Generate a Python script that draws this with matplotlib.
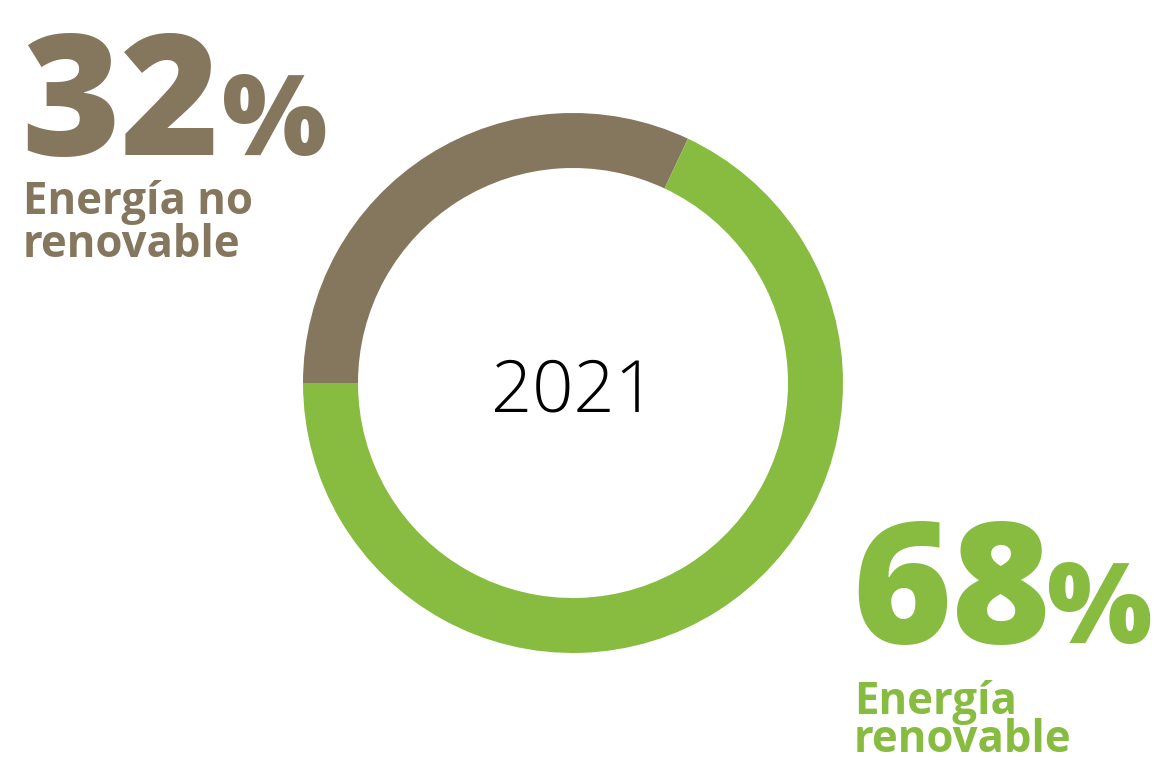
import matplotlib
matplotlib.use("Agg")
import matplotlib.pyplot as plt
from matplotlib.font_manager import FontProperties

labels = ["Energía no\nrenovable", "Energía\nrenovable"]
values = [32, 68]
colors = ["#85775D", "#88BC40"]
year = "2021"

W, H = 1158, 761
fig = plt.figure(figsize=(W / 100, H / 100), dpi=100)

cx, cy, R = 573, 383, 270
ax = fig.add_axes([(cx - R) / W, (H - cy - R) / H, 2 * R / W, 2 * R / H])
ax.pie(values, colors=colors, startangle=180, counterclock=False,
       radius=1.0, wedgeprops=dict(width=55 / 270, linewidth=0))
ax.set_xlim(-1, 1)
ax.set_ylim(-1, 1)
ax.set_aspect("equal")
ax.axis("off")

renderer = fig.canvas.get_renderer()

def ftext(x, y, s, **kw):
    return fig.text(x / W, 1 - y / H, s, **kw)

ftext(cx, 412, year, ha="center", va="baseline", fontsize=52,
      family="Open Sans", fontweight="light", color="black")

fam = "Open Sans"
lab_size = 31.5
fp = FontProperties(family=fam, weight="bold", size=lab_size)
_, lh, ld = renderer.get_text_width_height_descent("lp", fp, ismath=False)
asc = lh - ld

def block(x, y_num, y_l1, y_l2, val, label, color, gap):
    t = ftext(x, y_num, f"{val}", ha="left", va="baseline", fontsize=122,
              family=fam, fontweight=800, color=color)
    bb = t.get_window_extent(renderer)
    ftext(bb.x1 + gap, y_num, "%", ha="left", va="baseline", fontsize=80,
          family=fam, fontweight=800, color=color)
    ls = ((y_l2 - y_l1) - ld) / asc
    ftext(x + 2, y_l2, label, ha="left", va="baseline", fontsize=lab_size,
          family=fam, fontweight="bold", color=color, linespacing=ls)

block(21, 155, 214, 257, values[0], labels[0], colors[0], 2)
block(852, 643, 714, 752, values[1], labels[1], colors[1], -4)

fig.savefig("out.png", dpi=100, facecolor="white")
